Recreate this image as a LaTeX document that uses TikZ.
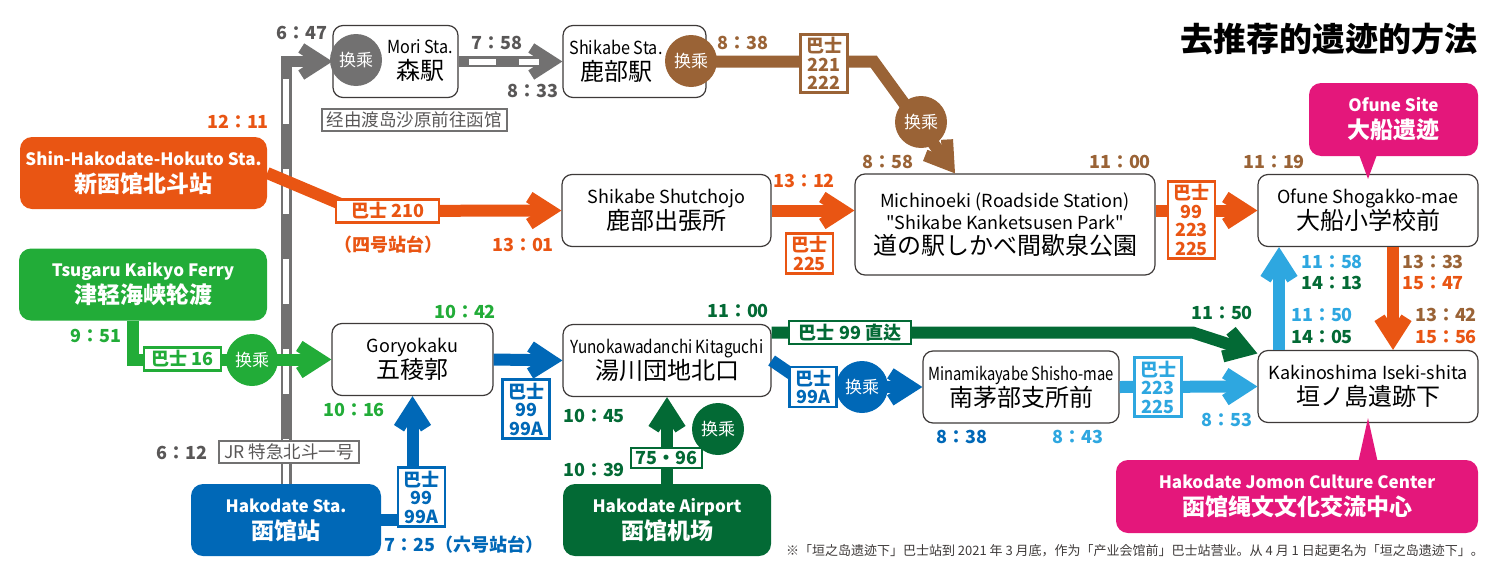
\documentclass[tikz,border=0pt]{standalone}
\usepackage{fontspec}
\usepackage{graphicx}
\setmainfont{Noto Sans CJK JP}[Ligatures=TeXOff]
\usetikzlibrary{arrows.meta,calc,positioning}

\definecolor{jrgray}{HTML}{727171}
\definecolor{txgray}{HTML}{595757}
\definecolor{bordr}{HTML}{3E3A39}
\definecolor{orng}{HTML}{E95513}
\definecolor{brwn}{HTML}{9A6336}
\definecolor{grn}{HTML}{22AC38}
\definecolor{dgrn}{HTML}{036A35}
\definecolor{blu}{HTML}{0068B7}
\definecolor{lblu}{HTML}{2EA7E0}
\definecolor{mgnt}{HTML}{E4177B}

\newcommand{\stnen}{\fontsize{18}{26}\selectfont}
\newcommand{\stnjp}{\fontsize{24}{26}\selectfont}
\newcommand{\stnname}[3][1]{{\stnen\scalebox{#1}[1]{#2}}\\{\stnjp #3}}
\newcommand{\orgname}[2]{{\fontsize{17}{27}\selectfont #1}\\{\fontsize{23}{27}\selectfont #2}}

\begin{document}
\begin{tikzpicture}[x=1pt,y=-1pt,
  stn/.style={draw=bordr,line width=1.2pt,fill=white,rounded corners=10pt,minimum height=72pt,inner sep=0pt,align=center,font=\fontsize{18}{26}\selectfont},
  nm/.style={align=center,inner sep=0pt,font=\fontsize{18}{26}\selectfont},
  org/.style={fill=#1,text=white,rounded corners=12pt,minimum height=72pt,align=center,inner sep=0pt,font=\bfseries\fontsize{17}{27}\selectfont},
  bus/.style={draw=#1,text=#1,fill=white,line width=2.5pt,align=center,minimum width=47pt,inner xsep=3pt,inner ysep=3pt,font=\bfseries\fontsize{18}{18.5}\selectfont},
  xfer/.style={circle,fill=#1,text=white,minimum size=52pt,inner sep=0pt,font=\fontsize{17}{17}\selectfont},
  tm/.style={text=#1,inner sep=0pt,font=\bfseries\fontsize{18}{18}\selectfont},
  route/.style={draw=#1,line width=12pt,-{Straight Barb[length=21pt,width=27pt]}},
  jr/.style={draw=jrgray,line width=11pt},
  jrdash/.style={draw=white,line width=6pt,dash pattern=on 45pt off 45pt},
  note/.style={draw=jrgray,line width=2pt,fill=white,text=txgray,inner xsep=5pt,inner ysep=3pt,font=\fontsize{17.5}{18}\selectfont}]
\useasboundingbox (0,0) rectangle (1495,562);

% stations
\node[stn,minimum width=125pt] (mori) at (395.5,61.5) {};
\node[nm] (morinm) at (420,61) {\stnname[0.9]{Mori Sta.}{森駅}};
\node[stn,minimum width=143pt] (shik) at (634.5,61.5) {};
\node[nm] (shiknm) at (616,61) {\stnname[0.9]{Shikabe Sta.}{鹿部駅}};
\node[stn,minimum width=209pt] (shut) at (666.5,210.5) {\stnname{Shikabe Shutchojo}{鹿部出張所}};
\node[stn,minimum width=300pt,minimum height=101pt,font=\fontsize{18}{22}\selectfont] (michi) at (1005,224.5)
  {Michinoeki (Roadside Station)\\"Shikabe Kanketsusen Park"\\[3pt]{\stnjp 道の駅しかべ間歇泉公園}};
\node[stn,minimum width=220pt] (ofune) at (1368,210.5) {\stnname{Ofune Shogakko-mae}{大船小学校前}};
\node[stn,minimum width=161pt] (gory) at (412.5,359.5) {\stnname{Goryokaku}{五稜郭}};
\node[stn,minimum width=208pt] (yuno) at (667,360.5) {\stnname[0.85]{Yunokawadanchi Kitaguchi}{湯川団地北口}};
\node[stn,minimum width=196pt] (mina) at (1021,387) {\stnname[0.82]{Minamikayabe Shisho-mae}{南茅部支所前}};
\node[stn,minimum width=220pt] (kaki) at (1368,386.5) {\stnname{Kakinoshima Iseki-shita}{垣ノ島遺跡下}};

\node[org=orng,minimum width=247pt] (shin) at (143.5,173) {\orgname{Shin-Hakodate-Hokuto Sta.}{新函馆北斗站}};
\node[org=grn,minimum width=248pt] (ferry) at (143,284.5) {\orgname{Tsugaru Kaikyo Ferry}{津轻海峡轮渡}};
\node[org=blu,minimum width=190pt] (hako) at (286,520) {\orgname{Hakodate Sta.}{函馆站}};
\node[org=dgrn,minimum width=208pt] (air) at (667,520) {\orgname{Hakodate Airport}{函馆机场}};

% JR
\draw[jr,-{Straight Barb[length=21pt,width=27pt]}] (hako.north) |- (mori.west);
\draw[jrdash] (hako.north) |- ([xshift=-25pt]mori.west);
\draw[jr,-{Straight Barb[length=21pt,width=27pt]}] (mori.east) -- (shik.west);
\draw[jrdash,dash pattern=on 27pt off 23pt] ([xshift=10pt]mori.east) -- ([xshift=-23pt]shik.west);

% bus routes
\draw[route=brwn] (shik.east) -- ++(167,0) -- ($(michi.north)+(-50,0)$);
\draw[route=orng] (shin.east) -- ++(90,38) -- (shut.west);
\draw[route=orng] (shut.east) -- (shut.east -| michi.west);
\draw[route=orng] (michi.east |- ofune.west) -- (ofune.west);
\draw[route=orng] ($(ofune.south)+(25,0)$) -- ($(kaki.north)+(25,0)$);
\draw[route=lblu] ($(kaki.north)+(-89,0)$) -- ($(ofune.south)+(-89,0)$);
\draw[route=lblu] (mina.east) -- (kaki.west);
\draw[route=grn] ($(ferry.south)+(-10,0)$) |- (gory.west);
\draw[route=blu] (hako.east) -| (gory.south);
\draw[route=blu] (gory.east) -- (yuno.west);
\draw[route=blu] (yuno.east) -- ++(38,26) -- (mina.west);
\draw[route=dgrn] ($(yuno.east)+(0,-28)$) -- ++(421,0) -- ($(kaki.west)+(0,-33)$);
\draw[route=dgrn] (air.north) -- (yuno.south);

% transfers
\node[xfer=jrgray] (xmori) at (356,60) {换乘};
\node[xfer=brwn] (xshik) at (691,61) {换乘};
\node[xfer=brwn] (xmichi) at (921,122) {换乘};
\node[xfer=grn] (xgory) at (252,360) {换乘};
\node[xfer=dgrn] (xair) at (718,429) {换乘};
\node[xfer=blu] (xmina) at (862,387) {换乘};

% bus numbers
\node[bus=brwn] (b221) at (824,63.5) {巴士\\221\\222};
\node[bus=orng,minimum width=103pt] (b210) at (387.5,211) {巴士 210};
\node[bus=orng] (b225) at (809.5,253.5) {巴士\\225};
\node[bus=orng] (b223o) at (1191.5,220) {巴士\\99\\223\\225};
\node[bus=grn,minimum width=77pt] (b16) at (182.5,359) {巴士 16};
\node[bus=blu] (b99g) at (526,409) {巴士\\99\\99A};
\node[bus=blu] (b99h) at (421.5,497) {巴士\\99\\99A};
\node[bus=blu] (b99a) at (813,387) {巴士\\99A};
\node[bus=lblu] (b223l) at (1158,387) {巴士\\223\\225};
\node[bus=dgrn,minimum width=122pt] (b99d) at (850,332.5) {巴士 99 直达};
\node[bus=dgrn,minimum width=71pt] (b7596) at (666.5,458) {75・96};

\node[note] (viasawa) at (414,120) {经由渡岛沙原前往函馆};
\node[note] (hokuto) at (289,452) {JR 特急北斗一号};

% times
\node[tm=txgray] (t647) at (302,33) {6：47};
\node[tm=txgray] (t758) at (497,43) {7：58};
\node[tm=txgray] (t833) at (533,91) {8：33};
\node[tm=txgray] (t612) at (182,453) {6：12};
\node[tm=brwn] (t838b) at (743,43) {8：38};
\node[tm=brwn] (t858) at (888,162) {8：58};
\node[tm=brwn] (t1100b) at (1120,162) {11：00};
\node[tm=brwn] (t1119) at (1274,162) {11：19};
\node[tm=brwn] (t1333) at (1433,262) {13：33};
\node[tm=brwn] (t1342) at (1446,315) {13：42};
\node[tm=orng] (t1211) at (238,122) {12：11};
\node[tm=orng] (t1301) at (523,245) {13：01};
\node[tm=orng] (yon) at (388,245) {（四号站台）};
\node[tm=orng] (t1312) at (804,181) {13：12};
\node[tm=orng] (t1547) at (1433,283) {15：47};
\node[tm=orng] (t1556) at (1446,337) {15：56};
\node[tm=grn] (t951) at (96,336) {9：51};
\node[tm=grn] (t1042) at (465,312) {10：42};
\node[tm=grn] (t1016) at (354,410) {10：16};
\node[tm=dgrn] (t1100g) at (738,311) {11：00};
\node[tm=dgrn] (t1045) at (594,416) {10：45};
\node[tm=dgrn] (t1039) at (594,470) {10：39};
\node[tm=dgrn] (t1150g) at (1222,313) {11：50};
\node[tm=dgrn] (t1413) at (1332,283) {14：13};
\node[tm=dgrn] (t1405) at (1322,337) {14：05};
\node[tm=blu] (t838) at (962,437) {8：38};
\node[tm=blu] (t725) at (464,545) {7：25（六号站台）};
\node[tm=lblu] (t843) at (1078,437) {8：43};
\node[tm=lblu] (t853) at (1227,420) {8：53};
\node[tm=lblu] (t1158) at (1332,262) {11：58};
\node[tm=lblu] (t1150) at (1322,315) {11：50};

% sites
\node[org=mgnt,minimum width=169pt,minimum height=73pt] (ofsite) at (1393.5,119.5) {\orgname{Ofune Site}{大船遗迹}};
\fill[mgnt] ($(ofune.north)+(-10,-22)$) -- ($(ofune.north)+(10,-22)$) -- ($(ofune.north)+(0,5)$) -- cycle;
\node[org=mgnt,minimum width=362pt,minimum height=73pt] (jomon) at (1297,496.5) {\orgname{Hakodate Jomon Culture Center}{函馆绳文文化交流中心}};
\fill[mgnt] ($(kaki.south)+(-10,40)$) -- ($(kaki.south)+(10,40)$) -- ($(kaki.south)+(0,-5)$) -- cycle;

\node[anchor=east,inner sep=0pt,font=\bfseries\fontsize{33}{33}\selectfont] (title) at (1478,39) {去推荐的遗迹的方法};
\node[anchor=east,inner sep=0pt,text=bordr,font=\fontsize{13}{14}\selectfont] (fnote) at (1484,551)
  {※「垣之岛遗迹下」巴士站到 2021 年 3 月底，作为「产业会馆前」巴士站营业。从 4 月 1 日起更名为「垣之岛遗迹下」。};
\end{tikzpicture}
\end{document}
